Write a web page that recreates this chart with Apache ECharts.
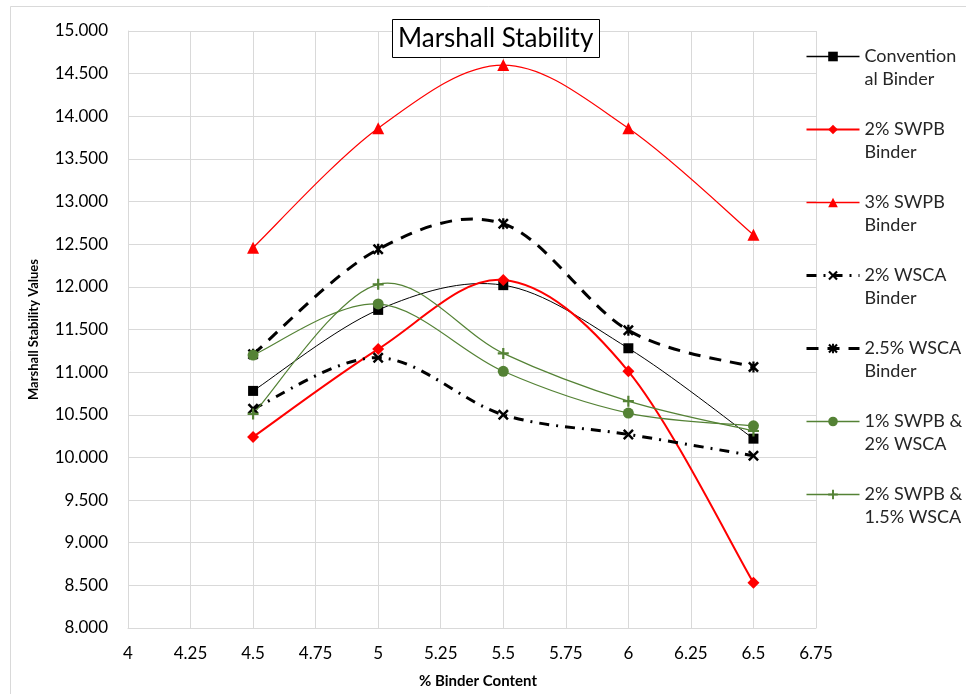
<!DOCTYPE html>
<html>
<head>
<meta charset="utf-8">
<script src="https://cdn.jsdelivr.net/npm/echarts@6/dist/echarts.min.js"></script>
<style>html,body{margin:0;padding:0;background:#fff}#c{width:966px;height:694px}</style>
</head>
<body>
<div id="c"></div>
<script>
const binderContent = [4.5, 5, 5.5, 6, 6.5];
const conventional = [10.78, 11.73, 12.02, 11.28, 10.22];
const swpb2 = [10.24, 11.27, 12.08, 11.01, 8.53];
const swpb3 = [12.46, 13.86, 14.60, 13.86, 12.61];
const wsca2 = [10.57, 11.17, 10.50, 10.27, 10.02];
const wsca25 = [11.21, 12.44, 12.74, 11.49, 11.06];
const swpb1wsca2 = [11.20, 11.80, 11.01, 10.52, 10.37];
const swpb2wsca15 = [10.51, 12.03, 11.22, 10.66, 10.31];
const seriesNames = ['Conventional Binder', '2% SWPB Binder', '3% SWPB Binder', '2% WSCA Binder', '2.5% WSCA Binder', '1% SWPB & 2% WSCA', '2% SWPB & 1.5% WSCA'];
const legendLabels = ['Convention\nal Binder', '2% SWPB\nBinder', '3% SWPB\nBinder', '2% WSCA\nBinder', '2.5% WSCA\nBinder', '1% SWPB &\n2% WSCA', '2% SWPB &\n1.5% WSCA'];
const xTicks = {min: 4, max: 6.75, interval: 0.25};
const yTicks = {min: 8, max: 15, interval: 0.5};

const FONT = 'Lato, "Open Sans", sans-serif';
const xPath = 'path://M0,1.6 L1.6,0 L5,3.4 L8.4,0 L10,1.6 L6.6,5 L10,8.4 L8.4,10 L5,6.6 L1.6,10 L0,8.4 L3.4,5 Z';
const plusPath = 'path://M4,0 H6 V4 H10 V6 H6 V10 H4 V6 H0 V4 H4 Z';
const starPath = 'path://M0,1.6 L1.6,0 L5,3.4 L8.4,0 L10,1.6 L6.6,5 L10,8.4 L8.4,10 L5,6.6 L1.6,10 L0,8.4 L3.4,5 Z M4,0 H6 V10 H4 Z';

function pts(arr){ return binderContent.map((x,i)=>[x, arr[i]]); }

const styles = [
  {color: '#000000', width: 1, type: 'solid', symbol: 'rect', size: 10},
  {color: '#ff0000', width: 2, type: 'solid', symbol: 'diamond', size: 12},
  {color: '#ff0000', width: 1.2, type: 'solid', symbol: 'triangle', size: 12},
  {color: '#000000', width: 3, type: [10, 7, 2, 7], symbol: xPath, size: 11},
  {color: '#000000', width: 3, type: [12, 9], symbol: starPath, size: 11},
  {color: '#548235', width: 1.2, type: 'solid', symbol: 'circle', size: 11},
  {color: '#548235', width: 1.2, type: 'solid', symbol: plusPath, size: 11}
];
const allData = [conventional, swpb2, swpb3, wsca2, wsca25, swpb1wsca2, swpb2wsca15];

// Excel-style smoothed curve drawn through the axis scale (api.coord)
function curveSeries(arr, st){
  return {
    type: 'custom', silent: true, z: 2, data: pts(arr),
    renderItem: function(params, api){
      if (params.dataIndex !== 0) return null;
      const P = pts(arr).map(p => api.coord(p));
      const n = P.length;
      let d = 'M' + P[0][0] + ' ' + P[0][1];
      for (let i = 0; i < n - 1; i++){
        const p0 = P[Math.max(i - 1, 0)], p1 = P[i], p2 = P[i + 1], p3 = P[Math.min(i + 2, n - 1)];
        const c1x = p1[0] + (p2[0] - p0[0]) / 6, c1y = p1[1] + (p2[1] - p0[1]) / 6;
        const c2x = p2[0] - (p3[0] - p1[0]) / 6, c2y = p2[1] - (p3[1] - p1[1]) / 6;
        d += ' C' + c1x + ' ' + c1y + ' ' + c2x + ' ' + c2y + ' ' + p2[0] + ' ' + p2[1];
      }
      const dash = st.type === 'solid' ? null : st.type;
      return {
        type: 'path',
        shape: {pathData: d},
        style: {fill: 'none', stroke: st.color, lineWidth: st.width, lineDash: dash}
      };
    }
  };
}

const lineSeries = seriesNames.map((name, i) => ({
  name: name, type: 'line', data: pts(allData[i]),
  symbol: styles[i].symbol, symbolSize: styles[i].size, showSymbol: true,
  lineStyle: {opacity: 0, width: 0},
  itemStyle: {color: styles[i].color, borderWidth: 0},
  emphasis: {disabled: true}, z: 4
}));
const curves = allData.map((arr, i) => curveSeries(arr, styles[i]));

const legendData = seriesNames.map((name, i) => ({
  name: name,
  lineStyle: {color: styles[i].color, width: Math.max(styles[i].width, 1.5), type: styles[i].type, opacity: 1},
  itemStyle: {color: styles[i].color}
}));
const labelMap = {};
seriesNames.forEach((n,i)=>labelMap[n]=' \n' + legendLabels[i]);

const chart = echarts.init(document.getElementById('c'), null, {renderer: 'canvas'});
chart.setOption({
  backgroundColor: '#fff',
  animation: false,
  textStyle: {fontFamily: FONT},
  graphic: [{type: 'rect', shape: {x: 10.5, y: 6.5, width: 1000, height: 800}, style: {fill: 'none', stroke: '#d9d9d9', lineWidth: 1}, z: -10}],
  title: {
    text: 'Marshall Stability', left: 392, top: 19,
    borderColor: '#000', borderWidth: 1, backgroundColor: '#fff', padding: [7, 6, 6, 6],
    textStyle: {fontFamily: FONT, fontSize: 26, fontWeight: 'normal', color: '#000'}, z: 10
  },
  grid: {left: 128, right: 150, top: 31, bottom: 66, containLabel: false},
  legend: {
    orient: 'vertical', left: 805, top: 22, padding: 0, itemGap: 4,
    itemWidth: 53, itemHeight: 12,
    data: legendData,
    formatter: n => labelMap[n],
    textStyle: {fontFamily: FONT, fontSize: 18, color: '#262626', lineHeight: 23},
    selectedMode: false
  },
  xAxis: {
    type: 'value', min: xTicks.min, max: xTicks.max, interval: xTicks.interval,
    name: '% Binder Content', nameLocation: 'middle', nameGap: 46,
    nameTextStyle: {fontFamily: FONT, fontSize: 15, fontWeight: 'bold', color: '#000', padding: [0, 0, 0, 12]},
    axisLine: {show: true, lineStyle: {color: '#d9d9d9'}},
    axisTick: {show: false},
    axisLabel: {margin: 17, fontSize: 17, color: '#000', fontFamily: FONT},
    splitLine: {show: true, lineStyle: {color: '#d9d9d9'}}
  },
  yAxis: {
    type: 'value', min: yTicks.min, max: yTicks.max, interval: yTicks.interval,
    name: 'Marshall Stability Values', nameLocation: 'middle', nameGap: 88, nameRotate: 90,
    nameTextStyle: {fontFamily: FONT, fontSize: 13, fontWeight: 'bold', color: '#000'},
    axisLine: {show: true, lineStyle: {color: '#d9d9d9'}},
    axisTick: {show: false},
    axisLabel: {margin: 20, fontSize: 17, color: '#000', fontFamily: FONT, formatter: v => v.toFixed(3)},
    splitLine: {show: true, lineStyle: {color: '#d9d9d9'}}
  },
  series: curves.concat(lineSeries)
});
</script>
</body>
</html>
